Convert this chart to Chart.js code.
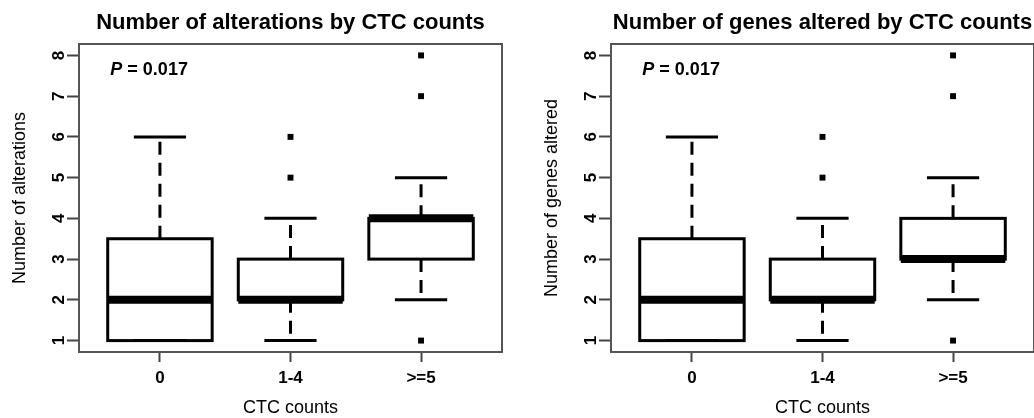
<!DOCTYPE html>
<html>
<head>
<meta charset="utf-8">
<script src="https://cdn.jsdelivr.net/npm/chart.js@4"></script>
<style>
  html, body { margin: 0; padding: 0; background: #fff; width: 1034px; height: 418px; overflow: hidden; }
  .panel { position: absolute; top: 0; width: 517px; height: 418px; }
</style>
</head>
<body>
<div class="panel" style="left:0"><canvas id="chartAlt"></canvas></div>
<div class="panel" style="left:532px"><canvas id="chartGenes"></canvas></div>
<script>
const groups = ['0', '1-4', '>=5'];
const groupPos = [1, 2, 3];
const yTicks = [1, 2, 3, 4, 5, 6, 7, 8];

// Number of alterations
const altLow = [1, 1, 2];
const altQ1 = [1, 2, 3];
const altMed = [2, 2, 4];
const altQ3 = [3.5, 3, 4];
const altHigh = [6, 4, 5];
const altOutGroup = [2, 2, 3, 3, 3];
const altOutVal = [5, 6, 1, 7, 8];

// Number of genes altered
const geneLow = [1, 1, 2];
const geneQ1 = [1, 2, 3];
const geneMed = [2, 2, 3];
const geneQ3 = [3.5, 3, 4];
const geneHigh = [6, 4, 5];
const geneOutGroup = [2, 2, 3, 3, 3];
const geneOutVal = [5, 6, 1, 7, 8];

const pLabel = 'P';
const pValue = ' = 0.017';

const FONT = '"Liberation Sans", Arial, sans-serif';

// whiskers, box outlines, medians, frame and p-value, all placed through the scales
const boxPlot = {
  id: 'boxPlot',
  afterDatasetsDraw(chart, args, o) {
    const { ctx, chartArea: a, scales: { x, y } } = chart;
    const bars = chart.getDatasetMeta(0).data;
    const seg = (x1, y1, x2, y2) => { ctx.beginPath(); ctx.moveTo(x1, y1); ctx.lineTo(x2, y2); ctx.stroke(); };
    ctx.save();
    ctx.strokeStyle = '#000';
    o.low.forEach((v, i) => {
      const b = bars[i];
      const cx = x.getPixelForValue(groupPos[i]);
      const half = b.width / 2;
      ctx.lineWidth = 3;
      ctx.setLineDash([13, 8]);
      if (o.q1[i] > o.low[i]) seg(cx, y.getPixelForValue(o.q1[i]), cx, y.getPixelForValue(o.low[i]));
      if (o.high[i] > o.q3[i]) seg(cx, y.getPixelForValue(o.q3[i]), cx, y.getPixelForValue(o.high[i]));
      ctx.setLineDash([]);
      seg(cx - half / 2, y.getPixelForValue(o.low[i]), cx + half / 2, y.getPixelForValue(o.low[i]));
      seg(cx - half / 2, y.getPixelForValue(o.high[i]), cx + half / 2, y.getPixelForValue(o.high[i]));
      ctx.strokeRect(b.x - half, b.y, b.width, b.base - b.y);
      ctx.lineWidth = 8;
      seg(cx - half, y.getPixelForValue(o.med[i]), cx + half, y.getPixelForValue(o.med[i]));
    });
    // frame
    ctx.strokeStyle = '#555';
    ctx.lineWidth = 2;
    ctx.strokeRect(a.left, a.top, a.right - a.left, a.bottom - a.top);
    // p value
    const px = x.getPixelForValue(0.62), py = y.getPixelForValue(7.64);
    ctx.fillStyle = '#000';
    ctx.textBaseline = 'middle';
    ctx.textAlign = 'left';
    ctx.font = 'italic bold 18px ' + FONT;
    ctx.fillText(pLabel, px, py);
    const w = ctx.measureText(pLabel).width;
    ctx.font = 'bold 18px ' + FONT;
    ctx.fillText(pValue, px + w, py);
    ctx.restore();
  }
};

function makeChart(id, title, yTitle, low, q1, med, q3, high, outGroup, outVal) {
  return new Chart(document.getElementById(id), {
    type: 'bar',
    data: {
      datasets: [
        {
          type: 'bar',
          data: groupPos.map((g, i) => ({ x: g, y: [q1[i], q3[i]] })),
          backgroundColor: '#fff', borderWidth: 0,
          barPercentage: 0.8, categoryPercentage: 1,
        },
        {
          type: 'scatter',
          data: outGroup.map((g, i) => ({ x: g, y: outVal[i] })),
          pointStyle: 'rect', pointRadius: 4.2, backgroundColor: '#000', borderWidth: 0,
        },
      ],
    },
    options: {
      responsive: true, maintainAspectRatio: false, animation: false, events: [],
      layout: { padding: { left: 0, right: 15, top: 0, bottom: 0 } },
      plugins: {
        legend: { display: false },
        tooltip: { enabled: false },
        title: {
          display: true, text: title, fullSize: false, color: '#000',
          font: { family: FONT, size: 22, weight: 'bold', lineHeight: 1.2 },
          padding: { top: 9.5, bottom: 8.1 },
        },
        boxPlot: { low, q1, med, q3, high },
      },
      scales: {
        x: {
          type: 'linear', min: 0.38, max: 3.62, offset: false,
          afterBuildTicks: s => { s.ticks = groupPos.map(v => ({ value: v })); },
          afterFit: s => { s.height = 66; },
          grid: { offset: false, drawOnChartArea: false, tickLength: 10, tickColor: '#444', tickWidth: 2 },
          border: { display: false },
          ticks: { color: '#000', padding: 6, maxRotation: 0, font: { family: FONT, size: 17, weight: 'bold' },
                   callback: v => groups[groupPos.indexOf(v)] },
          title: { display: true, text: 'CTC counts', color: '#000', font: { family: FONT, size: 18 }, padding: { top: 0, bottom: -1 } },
        },
        y: {
          min: 0.72, max: 8.28,
          afterBuildTicks: s => { s.ticks = yTicks.map(v => ({ value: v })); },
          afterFit: s => { s.width = 79; },
          grid: { drawOnChartArea: false, tickLength: 12, tickColor: '#444', tickWidth: 2 },
          border: { display: false },
          ticks: { color: '#000', padding: 3, minRotation: 90, maxRotation: 90, crossAlign: 'center',
                   font: { family: FONT, size: 17, weight: 'bold' }, callback: v => String(v) },
          title: { display: true, text: yTitle, color: '#000', font: { family: FONT, size: 18 }, padding: { top: 9, bottom: 0 } },
        },
      },
    },
    plugins: [boxPlot],
  });
}

makeChart('chartAlt', 'Number of alterations by CTC counts', 'Number of alterations',
  altLow, altQ1, altMed, altQ3, altHigh, altOutGroup, altOutVal);
makeChart('chartGenes', 'Number of genes altered by CTC counts', 'Number of genes altered',
  geneLow, geneQ1, geneMed, geneQ3, geneHigh, geneOutGroup, geneOutVal);
</script>
</body>
</html>
